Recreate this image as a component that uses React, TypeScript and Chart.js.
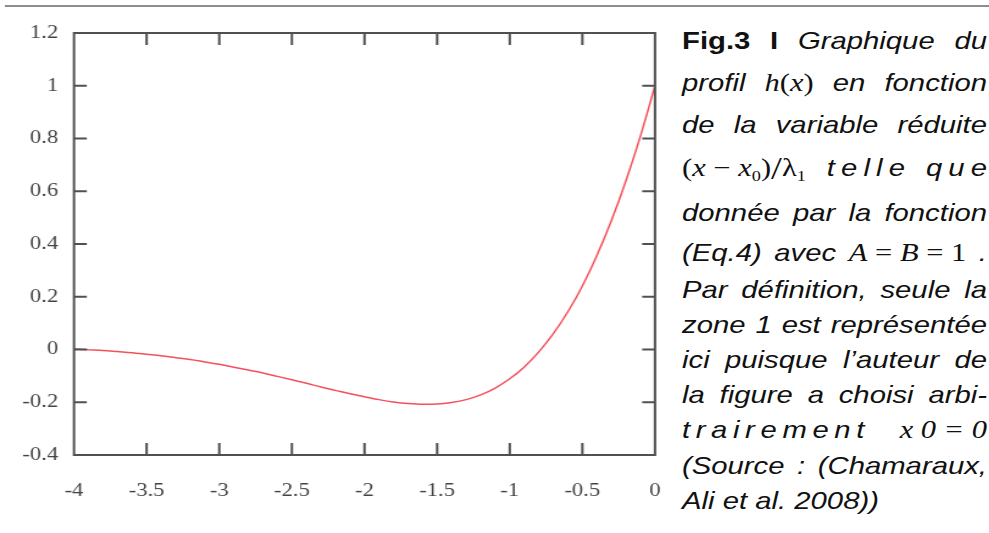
import React, { useEffect, useRef } from "react";
import { Chart, registerables } from "chart.js";

Chart.register(...registerables);

// ---- Data ----
const xValues = [
  -4.0, -3.9, -3.8, -3.7, -3.6, -3.5, -3.4, -3.3, -3.2, -3.1,
  -3.0, -2.9, -2.8, -2.7, -2.6, -2.5, -2.4, -2.3, -2.2, -2.1,
  -2.0, -1.9, -1.8, -1.7, -1.6, -1.5, -1.4, -1.3, -1.2, -1.1,
  -1.0, -0.9, -0.8, -0.7, -0.6, -0.5, -0.4, -0.3, -0.2, -0.1, 0.0,
];
const hValues = [
  0.002, -0.001, -0.004, -0.008, -0.012, -0.018, -0.024, -0.031, -0.038, -0.047,
  -0.056, -0.067, -0.078, -0.089, -0.102, -0.115, -0.128, -0.142, -0.155, -0.168,
  -0.179, -0.19, -0.199, -0.205, -0.208, -0.207, -0.201, -0.19, -0.172, -0.146,
  -0.111, -0.066, -0.009, 0.06, 0.143, 0.241, 0.356, 0.489, 0.64, 0.81, 1.0,
];
const xTicks = [-4, -3.5, -3, -2.5, -2, -1.5, -1, -0.5, 0];
const yTicks = [-0.4, -0.2, 0, 0.2, 0.4, 0.6, 0.8, 1, 1.2];

// ---- Layout (the reference is horizontally stretched) ----
const S = 1.22;
const CANVAS_W = 552;
const CANVAS_H = 533;
const PLOT_LEFT = 74 / S;
const PLOT_RIGHT = 655 / S;
const PLOT_TOP = 33;
const PLOT_BOTTOM = 455;

const framePlugin = {
  id: "frame",
  afterDatasetsDraw(chart: any) {
    const { ctx, chartArea, scales } = chart;
    const { left, right, top, bottom } = chartArea;
    const x = scales.x;
    const y = scales.y;
    ctx.save();
    ctx.strokeStyle = "#505050";
    ctx.lineWidth = 2;
    ctx.beginPath();
    ctx.rect(left, top, right - left, bottom - top);
    xTicks.forEach((v) => {
      const px = x.getPixelForValue(v);
      ctx.moveTo(px, bottom);
      ctx.lineTo(px, bottom - 12);
      ctx.moveTo(px, top);
      ctx.lineTo(px, top + 12);
    });
    yTicks.forEach((v) => {
      const py = y.getPixelForValue(v);
      ctx.moveTo(left, py);
      ctx.lineTo(left + 10.5, py);
      ctx.moveTo(right, py);
      ctx.lineTo(right - 10.5, py);
    });
    ctx.stroke();
    ctx.restore();
  },
};

const tickFont = { family: "'Liberation Serif', 'Times New Roman', serif", size: 18.5 };

const sans = "'Liberation Sans', Arial, Helvetica, sans-serif";
const serif = "'Liberation Serif', 'Times New Roman', serif";

const M: React.CSSProperties = { fontFamily: serif, fontStyle: "normal", fontSize: 25 };
const I = (t: string) => <i style={{ fontStyle: "italic" }}>{t}</i>;
const Sub = (t: string) => (
  <span style={{ fontSize: 15, verticalAlign: "-5px", fontStyle: "normal" }}>{t}</span>
);

type Line = { top: number; tokens: React.ReactNode[]; justify?: boolean };

const spaced = (word: string, ls: number) => (
  <span style={{ letterSpacing: ls, marginRight: -ls }}>{word}</span>
);

const captionLines: Line[] = [
  {
    top: 43,
    tokens: [
      <b style={{ fontStyle: "normal" }}>Fig.3</b>,
      <b style={{ fontStyle: "normal" }}>I</b>,
      "Graphique",
      "du",
    ],
  },
  {
    top: 85,
    tokens: [
      "profil",
      <span style={M}>
        {I("h")}({I("x")})
      </span>,
      "en",
      "fonction",
    ],
  },
  { top: 127, tokens: ["de", "la", "variable", "réduite"] },
  {
    top: 170,
    tokens: [
      <span style={M}>
        ({I("x")} − {I("x")}
        {Sub("0")})<span style={{ fontSize: 32, lineHeight: "20px", verticalAlign: "-3px" }}>/</span>λ
        {Sub("1")}
      </span>,
      spaced("telle", 5),
      spaced("que", 5),
    ],
  },
  { top: 215, tokens: ["donnée", "par", "la", "fonction"] },
  {
    top: 255,
    tokens: [
      "(Eq.4)",
      "avec",
      <span style={M}>
        {I("A")} = {I("B")} = 1
      </span>,
      ".",
    ],
  },
  { top: 292, tokens: ["Par", "définition,", "seule", "la"] },
  { top: 327, tokens: ["zone", "1", "est", "représentée"] },
  { top: 362, tokens: ["ici", "puisque", "l’auteur", "de"] },
  { top: 397, tokens: ["la", "figure", "a", "choisi", "arbi-"] },
  {
    top: 432,
    tokens: [
      <span style={{ whiteSpace: "nowrap" }}>{spaced("trairement", 4.6)}</span>,
      <span style={{ ...M, fontStyle: "italic", whiteSpace: "nowrap" }}>
        x<span style={{ marginLeft: 6 }}>0</span> = 0
      </span>,
    ],
  },
  { top: 468, tokens: ["(Source", ":", "(Chamaraux,"] },
  { top: 503, tokens: ["Ali et al. 2008))"], justify: false },
];

export default function App() {
  const canvasRef = useRef<HTMLCanvasElement | null>(null);

  useEffect(() => {
    document.body.style.margin = "0";
    document.body.style.overflow = "hidden";
    const canvas = canvasRef.current;
    if (!canvas) return;
    const chart = new Chart(canvas, {
      type: "line",
      data: {
        datasets: [
          {
            data: xValues.map((x, i) => ({ x, y: hValues[i] })),
            borderColor: "#f4505c",
            borderWidth: 1.5,
            pointRadius: 0,
            cubicInterpolationMode: "monotone",
            fill: false,
          },
        ],
      },
      options: {
        animation: false,
        responsive: false,
        devicePixelRatio: 1,
        layout: {
          padding: { top: PLOT_TOP, right: CANVAS_W - PLOT_RIGHT, left: 0, bottom: 0 },
        },
        plugins: {
          legend: { display: false },
          tooltip: { enabled: false },
        },
        scales: {
          x: {
            type: "linear",
            min: -4,
            max: 0,
            grid: { display: false, drawTicks: false },
            border: { display: false },
            afterBuildTicks: (axis: any) => {
              axis.ticks = xTicks.map((v) => ({ value: v }));
            },
            afterFit: (axis: any) => {
              axis.height = CANVAS_H - PLOT_BOTTOM;
              axis.paddingLeft = 0;
              axis.paddingRight = 0;
            },
            ticks: {
              font: tickFont,
              color: "#444",
              padding: 25,
              maxRotation: 0,
              autoSkip: false,
              callback: (v: any) => String(v),
            },
          },
          y: {
            type: "linear",
            min: -0.4,
            max: 1.2,
            grid: { display: false, drawTicks: false },
            border: { display: false },
            afterBuildTicks: (axis: any) => {
              axis.ticks = yTicks.map((v) => ({ value: v }));
            },
            afterFit: (axis: any) => {
              axis.width = PLOT_LEFT;
              axis.paddingTop = 0;
              axis.paddingBottom = 0;
            },
            ticks: {
              font: tickFont,
              color: "#444",
              padding: 13,
              autoSkip: false,
              callback: (v: any) => String(v),
            },
          },
        },
      },
      plugins: [framePlugin],
    } as any);
    return () => chart.destroy();
  }, []);

  const capLeft = 682 / S;
  const capWidth = (987 - 682) / S;

  return (
    <div
      style={{
        position: "absolute",
        left: 0,
        top: 0,
        width: 989 / S,
        height: 533,
        transform: `scaleX(${S})`,
        transformOrigin: "0 0",
        background: "#fff",
        overflow: "hidden",
      }}
    >
      <div
        style={{
          position: "absolute",
          left: 5 / S,
          top: 5,
          width: (989 - 5) / S,
          height: 2.4,
          background: "#8d8d8d",
        }}
      />
      <canvas
        ref={canvasRef}
        width={CANVAS_W}
        height={CANVAS_H}
        style={{ position: "absolute", left: 0, top: 0, display: "block" }}
      />
      {captionLines.map((line, i) => (
        <div
          key={i}
          style={{
            position: "absolute",
            left: capLeft,
            width: capWidth,
            top: line.top - 17,
            height: 30,
            lineHeight: "30px",
            display: "flex",
            justifyContent: line.justify === false ? "flex-start" : "space-between",
            alignItems: "baseline",
            fontFamily: sans,
            fontStyle: "italic",
            fontSize: 24,
            color: "#111",
            whiteSpace: "nowrap",
          }}
        >
          {line.tokens.map((t, j) => (
            <span key={j}>{t}</span>
          ))}
        </div>
      ))}
    </div>
  );
}
